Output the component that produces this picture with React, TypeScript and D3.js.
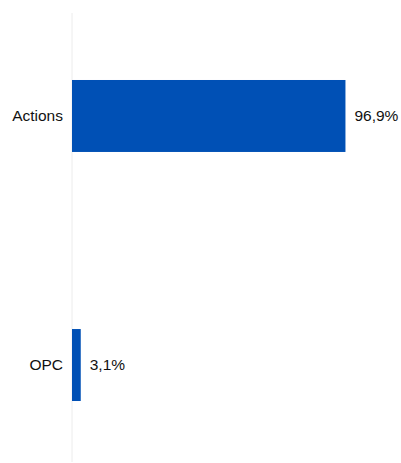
import React from "react";
import * as d3 from "d3";

const categories = ["Actions", "OPC"];
const values = [96.9, 3.1];
const valueLabels = ["96,9%", "3,1%"];

const W = 401;
const H = 463;

export default function App() {
  const x = d3.scaleLinear().domain([0, 100]).range([72, 354.2]);
  const y = d3
    .scaleBand<string>()
    .domain(categories)
    .range([13, 468])
    .paddingInner(0.711)
    .paddingOuter(0.269);
  const bw = y.bandwidth();
  return (
    <svg
      width={W}
      height={H}
      style={{ position: "absolute", left: 0, top: 0, fontFamily: "'Liberation Sans', Arial, sans-serif" }}
    >
      <line x1={x(0)} x2={x(0)} y1={13} y2={462} stroke="#ececec" strokeWidth={1} />
      {categories.map((c, i) => {
        const y0 = y(c) as number;
        return (
          <g key={c}>
            <rect x={x(0)} y={y0} width={x(values[i]) - x(0)} height={bw} fill="#0050b5" />
            <text x={x(0) - 9} y={y0 + bw / 2} dy="0.35em" textAnchor="end" fontSize={15.5} fill="#111">
              {c}
            </text>
            <text x={x(values[i]) + 9} y={y0 + bw / 2} dy="0.35em" textAnchor="start" fontSize={15.5} fill="#111">
              {valueLabels[i]}
            </text>
          </g>
        );
      })}
    </svg>
  );
}
